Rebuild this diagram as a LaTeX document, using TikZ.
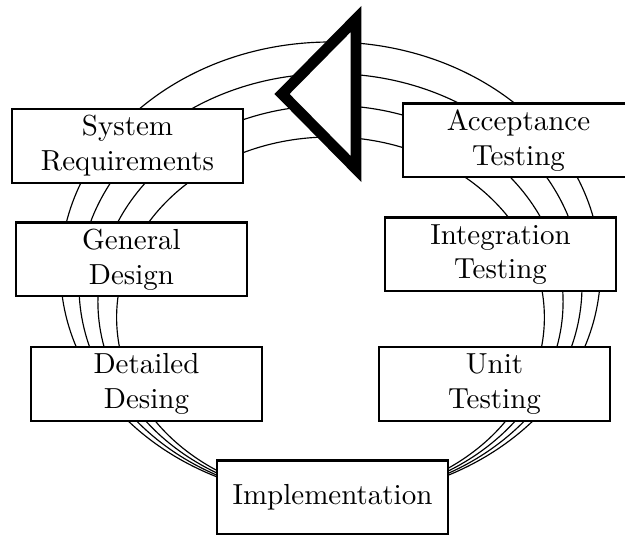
\documentclass[tikz,border=0pt]{standalone}
\begin{document}
\begin{tikzpicture}[x=0.3448pt,y=-0.3448pt,
  stage/.style={draw, line width=0.7pt, fill=white, minimum width=79.65pt,
    minimum height=25.5pt, inner sep=0pt, align=center},
  ring/.style={line width=0.4pt},
  marker/.style={draw, line width=3.7pt, fill=white, miter limit=10}]
\useasboundingbox (0,0) rectangle (625,536);
% nested rings, all touching near the bottom
\draw[ring] (330.5,270.0) ellipse [x radius=93.10pt, y radius=78.61pt];
\draw[ring] (330.5,285.8) ellipse [x radius=86.72pt, y radius=73.17pt];
\draw[ring] (330.5,301.7) ellipse [x radius=80.20pt, y radius=67.68pt];
\draw[ring] (330.5,317.5) ellipse [x radius=73.75pt, y radius=62.24pt];
% stages
\node[stage] (sys)   at (127.5,146)   {System\\Requirements};
\node[stage] (gen)   at (131.5,259.5) {General\\Design};
\node[stage] (det)   at (146.5,384)   {Detailed\\Desing};
\node[stage] (imp)   at (332.5,497.5) {Implementation};
\node[stage] (unit)  at (494.5,384)   {Unit\\Testing};
\node[stage] (integ) at (500.5,254.5) {Integration\\Testing};
\node[stage] (acc)   at (518.5,140.5) {Acceptance\\Testing};
% direction marker
\draw[marker] (356,19) -- (282,94) -- (356,169) -- cycle;
\end{tikzpicture}
\end{document}
